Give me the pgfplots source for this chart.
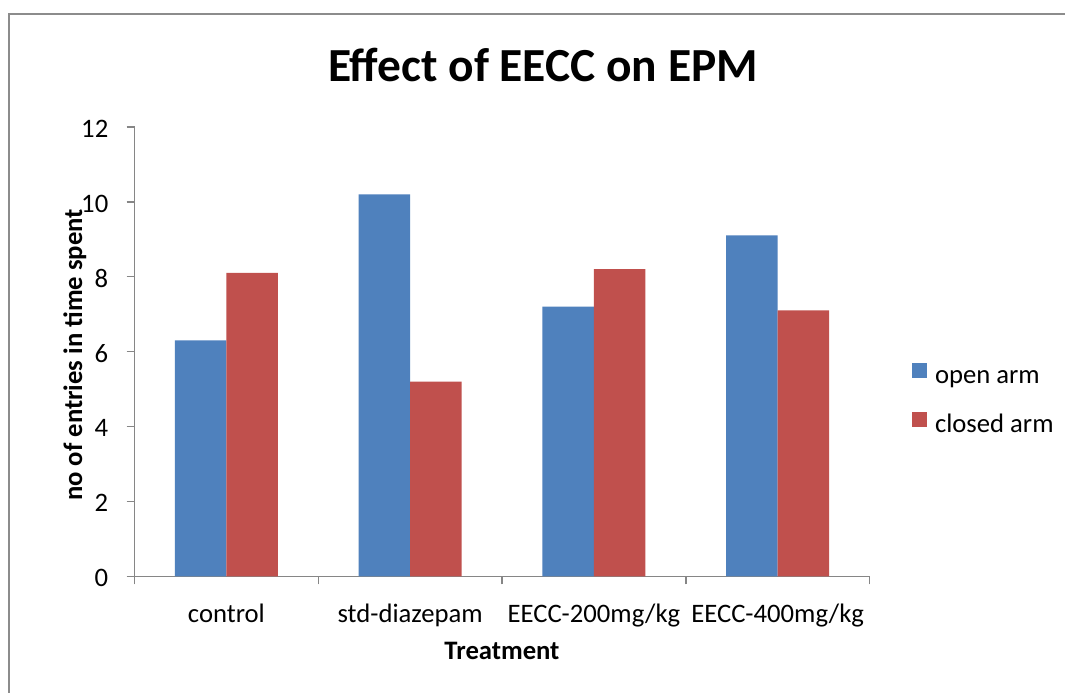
\documentclass[border=0pt]{standalone}
\usepackage{fontspec}
\setmainfont{Carlito}
\usepackage{pgfplots}
\pgfplotsset{compat=1.18}

\definecolor{openarm}{HTML}{4F81BD}
\definecolor{closedarm}{HTML}{C0504D}
\definecolor{axisgrey}{HTML}{868686}
\definecolor{framegrey}{HTML}{8C8C8C}

\begin{document}
\begin{tikzpicture}
\useasboundingbox (0,0) rectangle (798.75pt,519.75pt);
\fill[white] (0,0) rectangle (798.75pt,519.75pt);
% chart area frame (only left and top visible)
\draw[framegrey, line width=1.1pt] (6.6pt,-5pt) -- (6.6pt,509.25pt) -- (805pt,509.25pt);

\begin{axis}[
  at={(100.9pt,87.5pt)}, anchor=south west,
  scale only axis, width=551.25pt, height=337.1pt,
  ybar=0pt, bar width=0.28,
  xmin=-0.5, xmax=3.5, ymin=0, ymax=12,
  ytick={0,2,...,12},
  xtick={-0.5,0.5,1.5,2.5,3.5}, xticklabels={},
  extra x ticks={0,1,2,3},
  extra x tick labels={control,std-diazepam,EECC-200mg/kg,EECC-400mg/kg},
  extra x tick style={major tick length=0pt,
    xticklabel style={anchor=base, inner sep=0pt, yshift=-34.3pt}},
  axis x line*=bottom, axis y line*=left,
  axis line style={axisgrey, line width=1.1pt},
  tick style={axisgrey, line width=1.1pt},
  tick align=outside, major tick length=6pt,
  tick label style={font=\fontsize{20}{24}\selectfont},
  /pgf/number format/assume math mode=true,
  yticklabel style={anchor=east, inner sep=0pt, xshift=-13.5pt, yshift=-1.3pt},
  legend style={at={(1.0578,0.4745)}, anchor=north west, draw=none, fill=none,
    inner sep=0pt, outer sep=0pt, row sep=16pt, column sep=6pt,
    font=\fontsize{20}{24}\selectfont,
    nodes={inner sep=0pt, text height=15pt, text depth=5pt}},
  legend cell align=left,
  legend image code/.code={\fill[#1,draw=none] (0pt,-0.75pt) rectangle (11.25pt,10.5pt);},
  clip=false,
]
\addplot[fill=openarm, draw=none] coordinates {(0,6.3) (1,10.2) (2,7.2) (3,9.1)};
\addplot[fill=closedarm, draw=none] coordinates {(0,8.1) (1,5.2) (2,8.2) (3,7.1)};
\legend{open arm,closed arm}
\end{axis}

\node[font=\bfseries\fontsize{35.6}{40}\selectfont, anchor=base] at (407.25pt,458.25pt) {Effect of EECC on EPM};
\node[font=\bfseries\fontsize{20}{24}\selectfont, anchor=base] at (376.5pt,24.75pt) {Treatment};
\node[font=\bfseries\fontsize{20}{24}\selectfont, anchor=base, rotate=90] at (61.5pt,253.5pt) {no of entries in time spent};
\end{tikzpicture}
\end{document}
